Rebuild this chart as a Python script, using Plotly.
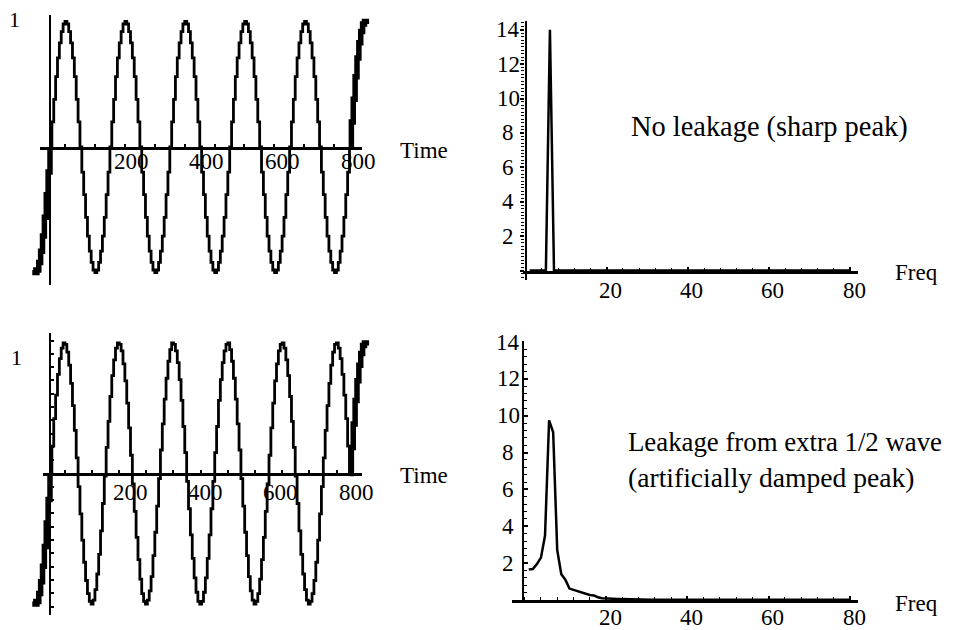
import plotly.graph_objects as go

W, H = 965, 630

# ---------------- data ----------------
sample_times = list(range(0, 801, 5))

top_signal = [
    0, 0.2, 0.38, 0.56, 0.71, 0.83, 0.92, 0.98, 1.0, 0.98, 0.92, 0.83, 0.71, 0.56, 0.38, 0.2,
    0, -0.2, -0.38, -0.56, -0.71, -0.83, -0.92, -0.98, -1.0, -0.98, -0.92, -0.83, -0.71, -0.56, -0.38, -0.2,
    0, 0.2, 0.38, 0.56, 0.71, 0.83, 0.92, 0.98, 1.0, 0.98, 0.92, 0.83, 0.71, 0.56, 0.38, 0.2,
    0, -0.2, -0.38, -0.56, -0.71, -0.83, -0.92, -0.98, -1.0, -0.98, -0.92, -0.83, -0.71, -0.56, -0.38, -0.2,
    0, 0.2, 0.38, 0.56, 0.71, 0.83, 0.92, 0.98, 1.0, 0.98, 0.92, 0.83, 0.71, 0.56, 0.38, 0.2,
    0, -0.2, -0.38, -0.56, -0.71, -0.83, -0.92, -0.98, -1.0, -0.98, -0.92, -0.83, -0.71, -0.56, -0.38, -0.2,
    0, 0.2, 0.38, 0.56, 0.71, 0.83, 0.92, 0.98, 1.0, 0.98, 0.92, 0.83, 0.71, 0.56, 0.38, 0.2,
    0, -0.2, -0.38, -0.56, -0.71, -0.83, -0.92, -0.98, -1.0, -0.98, -0.92, -0.83, -0.71, -0.56, -0.38, -0.2,
    0, 0.2, 0.38, 0.56, 0.71, 0.83, 0.92, 0.98, 1.0, 0.98, 0.92, 0.83, 0.71, 0.56, 0.38, 0.2,
    0, -0.2, -0.38, -0.56, -0.71, -0.83, -0.92, -0.98, -1.0, -0.98, -0.92, -0.83, -0.71, -0.56, -0.38, -0.2,
    0,
]

bottom_signal = [
    0, 0.21, 0.42, 0.60, 0.76, 0.88, 0.96, 1.00, 0.99, 0.93,
    0.83, 0.69, 0.52, 0.33, 0.12, -0.10, -0.31, -0.51, -0.68, -0.82,
    -0.92, -0.98, -1.00, -0.97, -0.89, -0.77, -0.62, -0.44, -0.23, -0.02,
    0.20, 0.40, 0.59, 0.75, 0.87, 0.96, 1.00, 0.99, 0.94, 0.84,
    0.71, 0.54, 0.35, 0.14, -0.08, -0.29, -0.49, -0.66, -0.81, -0.92,
    -0.98, -1.00, -0.97, -0.90, -0.79, -0.63, -0.45, -0.25, -0.04, 0.18,
    0.38, 0.57, 0.73, 0.86, 0.95, 1.00, 0.99, 0.94, 0.85, 0.72,
    0.56, 0.36, 0.16, -0.06, -0.27, -0.47, -0.65, -0.80, -0.91, -0.98,
    -1.00, -0.98, -0.91, -0.80, -0.65, -0.47, -0.27, -0.06, 0.16, 0.36,
    0.56, 0.72, 0.85, 0.94, 0.99, 1.00, 0.95, 0.86, 0.73, 0.57,
    0.38, 0.18, -0.04, -0.25, -0.45, -0.63, -0.79, -0.90, -0.97, -1.00,
    -0.98, -0.92, -0.81, -0.66, -0.49, -0.29, -0.08, 0.14, 0.35, 0.54,
    0.71, 0.84, 0.94, 0.99, 1.00, 0.96, 0.87, 0.75, 0.59, 0.40,
    0.20, -0.02, -0.23, -0.44, -0.62, -0.77, -0.89, -0.97, -1.00, -0.98,
    -0.92, -0.82, -0.68, -0.51, -0.31, -0.10, 0.12, 0.33, 0.52, 0.69,
    0.83, 0.93, 0.99, 1.00, 0.96, 0.88, 0.76, 0.60, 0.42, 0.21,
    0,
]

lead_in_times = [-45, -40, -35, -30, -25, -20, -15, -10, -5, 0]
lead_in_values = [-0.98, -1.0, -0.98, -0.92, -0.83, -0.71, -0.56, -0.38, -0.2, 0.0]
lead_out_times = [800, 805, 810, 815, 820, 825, 830, 835, 840, 845]
lead_out_values = [0.0, 0.2, 0.38, 0.56, 0.71, 0.83, 0.92, 0.98, 1.0, 0.98]

freq_index = list(range(1, 81))
sharp_spectrum = [
    0, 0, 0, 0, 0, 14.0, 0, 0, 0, 0, 0, 0, 0, 0, 0, 0, 0, 0, 0, 0,
    0, 0, 0, 0, 0, 0, 0, 0, 0, 0, 0, 0, 0, 0, 0, 0, 0, 0, 0, 0,
    0, 0, 0, 0, 0, 0, 0, 0, 0, 0, 0, 0, 0, 0, 0, 0, 0, 0, 0, 0,
    0, 0, 0, 0, 0, 0, 0, 0, 0, 0, 0, 0, 0, 0, 0, 0, 0, 0, 0, 0,
]
leaky_spectrum = [
    1.65, 1.68, 1.95, 2.3, 3.5, 9.75, 9.1, 2.7, 1.4, 1.1,
    0.62, 0.55, 0.48, 0.38, 0.3, 0.27, 0.25, 0.15, 0.1, 0.08,
    0.07, 0.07, 0.06, 0.06, 0.05, 0.05, 0.03, 0.03, 0.03, 0.02,
    0.02, 0.02, 0.02, 0.02, 0.02, 0.02, 0.02, 0.02, 0.02, 0.02,
    0.02, 0.02, 0.02, 0.02, 0.02, 0.02, 0.02, 0.02, 0.02, 0.02,
    0.02, 0.02, 0.02, 0.02, 0.02, 0.02, 0.02, 0.02, 0.02, 0.02,
    0.02, 0.02, 0.02, 0.02, 0.02, 0.02, 0.02, 0.02, 0.02, 0.02,
    0.02, 0.02, 0.02, 0.02, 0.02, 0.02, 0.02, 0.02, 0.02, 0.02,
]

time_ticks = [200, 400, 600, 800]
freq_ticks = [20, 40, 60, 80]
amp_ticks = [2, 4, 6, 8, 10, 12, 14]

# ---------------- helpers ----------------
FONT = "Liberation Serif"


def fx(px):
    return px / W


def fy(py):
    return 1 - py / H


def rng(p0, p1, va, pa, vb, pb):
    s = (pb - pa) / (vb - va)
    return [va + (p0 - pa) / s, va + (p1 - pa) / s]


layout = dict(
    width=W, height=H, margin=dict(l=0, r=0, t=0, b=0, pad=0, autoexpand=False),
    paper_bgcolor="white", plot_bgcolor="rgba(0,0,0,0)", showlegend=False,
    font=dict(family=FONT, color="black", size=23),
)
count = [0]
traces = []
annotations = []


def pair(xc, yc, placeholder=False):
    count[0] += 1
    s = "" if count[0] == 1 else str(count[0])
    layout["xaxis" + s] = dict(xc, anchor="y" + s)
    layout["yaxis" + s] = dict(yc, anchor="x" + s)
    if placeholder:
        # empty trace so that plotly creates this axis-only subplot
        traces.append(go.Scatter(x=[None], y=[None], mode="lines", xaxis="x" + s, yaxis="y" + s,
                                 hoverinfo="skip", showlegend=False))
    return "x" + s, "y" + s


hidden = dict(visible=False, fixedrange=True, showgrid=False, zeroline=False, automargin=False)
base = dict(showgrid=False, zeroline=False, fixedrange=True, showline=True, linecolor="black",
            automargin=False, showticklabels=False)


def h_axis(p0, p1, py, va, pa, vb, pb, width, **kw):
    xc = dict(base, domain=[fx(p0), fx(p1)], range=rng(p0, p1, va, pa, vb, pb), linewidth=width, **kw)
    yc = dict(hidden, domain=[fy(py), fy(py) + 0.002], range=[0, 1])
    return pair(xc, yc, placeholder=True)


def v_axis(px, top, bottom, va, pa, vb, pb, width, **kw):
    xc = dict(hidden, domain=[fx(px), fx(px) + 0.002], range=[0, 1])
    yc = dict(base, domain=[fy(bottom), fy(top)], range=rng(bottom, top, va, pa, vb, pb),
              linewidth=width, **kw)
    return pair(xc, yc, placeholder=True)


def line_trace(x, y, ax, width, shape="linear"):
    traces.append(go.Scatter(x=x, y=y, mode="lines", xaxis=ax[0], yaxis=ax[1],
                             line=dict(color="black", width=width, shape=shape),
                             hoverinfo="skip", showlegend=False))


def text(px, py, s, size, xanchor="center", yanchor="middle"):
    annotations.append(dict(x=fx(px), y=fy(py), xref="paper", yref="paper", text=s, showarrow=False,
                            xanchor=xanchor, yanchor=yanchor, font=dict(family=FONT, size=size, color="black")))


def x_labels(xref, values, py, xshift=0):
    for v in values:
        annotations.append(dict(x=v, y=fy(py), xref=xref, yref="paper", text=str(v), showarrow=False,
                                xanchor="center", yanchor="middle", xshift=xshift,
                                font=dict(family=FONT, size=23, color="black")))


# ---------------- time-domain panels ----------------
panels_time = [
    dict(sig=top_signal, y0=147, y1=21.5, lab=(131, 358), hx=(40, 362), vext=(15, 285),
         m0=65, mstep=29.9, box=(0, 310), ticks_v=False, one=(14, 19), timey=150, laby=162),
    dict(sig=bottom_signal, y0=473.5, y1=343, lab=(130, 356), hx=(43, 362), vext=(333, 615),
         m0=64.5, mstep=27.2, box=(310, 630), ticks_v=True, one=(16, 357), timey=475, laby=492),
]
for p in panels_time:
    b0, b1 = p["box"]
    data_ax = pair(dict(hidden, domain=[0, fx(480)], range=rng(0, 480, 0, 50, 800, 349.5)),
                   dict(hidden, domain=[fy(b1), fy(b0)], range=rng(b1, b0, 0, p["y0"], 1, p["y1"])))
    line_trace(sample_times, p["sig"], data_ax, 2.8, "hv")
    line_trace(lead_in_times, lead_in_values, data_ax, 5.5, "hv")
    line_trace(lead_out_times, lead_out_values, data_ax, 5.5, "hv")

    la, lb = p["lab"]
    scale = (lb - la) / 600.0
    hax = h_axis(p["hx"][0], p["hx"][1], p["y0"] - 0.5, 200, la, 800, lb, 2.5,
                 tickmode="array", tickvals=time_ticks, ticks="",
                 minor=dict(ticks="inside", ticklen=3, tickwidth=1.5, tickcolor="black",
                            tick0=200 + (p["m0"] - la) / scale, dtick=p["mstep"] / scale,
                            showgrid=False))
    x_labels(hax[0], time_ticks, p["laby"])
    vt, vb_ = p["vext"]
    if p["ticks_v"]:
        v_axis(51, vt, vb_, 0, p["y0"], 1, p["y0"] - 133, 2,
               ticks="inside", ticklen=3, tickwidth=1.5, tickcolor="black",
               tickmode="linear", tick0=0, dtick=0.1)
    else:
        v_axis(51, vt, vb_, 0, p["y0"], 1, p["y0"] - 125.5, 2, ticks="")
    text(p["one"][0], p["one"][1], "1", 22)
    text(423.5, p["timey"], "Time", 23)

# ---------------- frequency-domain panels ----------------
panels_freq = [
    dict(spec=sharp_spectrum, x0=525.6, x80=850, y0=270.5, y14=29.7, box=(0, 310),
         hx=(523, 858), vx=526.5, vext=(21, 280), vticks="outside", vminor=0.2, freqy=272, laby=290.5),
    dict(spec=leaky_spectrum, x0=524.7, x80=850, y0=600, y14=342, box=(310, 630),
         hx=(512, 858), vx=524.3, vext=(341, 600), vticks="inside", vminor=0.4, freqy=603, laby=617),
]
for p in panels_freq:
    b0, b1 = p["box"]
    data_ax = pair(dict(hidden, domain=[fx(480), 1], range=rng(480, 965, 0, p["x0"], 80, p["x80"])),
                   dict(hidden, domain=[fy(b1), fy(b0)], range=rng(b1, b0, 0, p["y0"], 14, p["y14"])))
    line_trace(freq_index, p["spec"], data_ax, 2.5)

    hax = h_axis(p["hx"][0], p["hx"][1], p["y0"], 0, p["x0"], 80, p["x80"], 2.5,
                 tickmode="array", tickvals=freq_ticks,
                 ticks="inside", ticklen=4, tickwidth=1.5, tickcolor="black",
                 minor=dict(ticks="inside", ticklen=3, tickwidth=1.2, tickcolor="black",
                            tick0=0, dtick=4, showgrid=False))
    x_labels(hax[0], freq_ticks, p["laby"], xshift=4)
    vt, vb_ = p["vext"]
    vax = v_axis(p["vx"], vt, vb_, 0, p["y0"], 14, p["y14"], 2.2,
                 ticks=p["vticks"], ticklen=4, tickwidth=1.5, tickcolor="black",
                 tickmode="linear", tick0=0, dtick=2,
                 minor=dict(ticks=p["vticks"], ticklen=3, tickwidth=1.2, tickcolor="black",
                            tick0=0, dtick=p["vminor"], showgrid=False))
    for v in amp_ticks:
        annotations.append(dict(x=fx(508), y=v, xref="paper", yref=vax[1], text=str(v), showarrow=False,
                                xanchor="center", yanchor="middle",
                                font=dict(family=FONT, size=23, color="black")))
    text(916, p["freqy"], "Freq", 23)

text(629, 127, "No leakage (sharp peak)", 28.4, xanchor="left")
text(626, 442, "Leakage from extra 1/2 wave", 26.8, xanchor="left")
text(626, 477, "(artificially damped peak)", 27.6, xanchor="left")

layout["annotations"] = annotations
fig = go.Figure(data=traces, layout=layout)
fig.write_html("out.html")
